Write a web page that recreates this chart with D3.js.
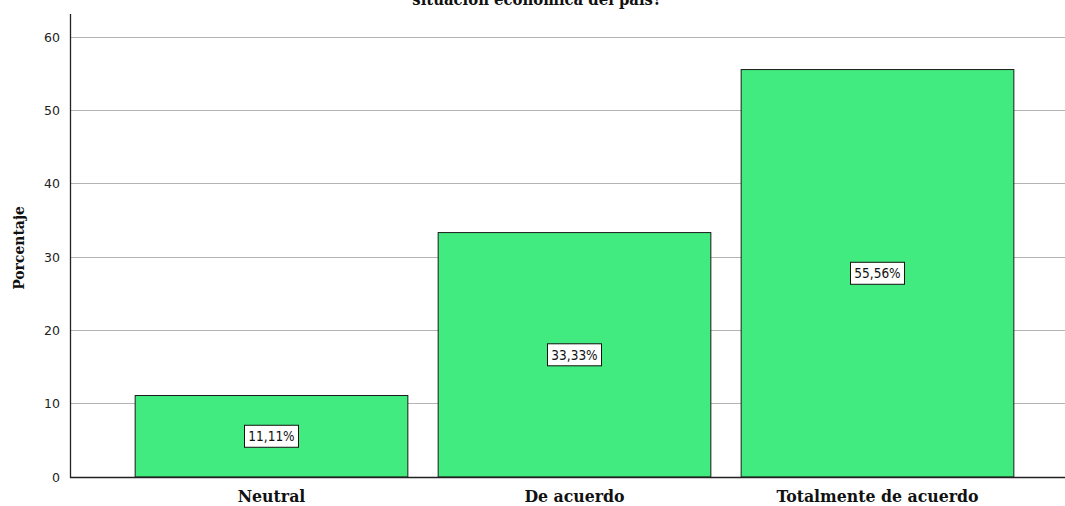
<!DOCTYPE html>
<html><head><meta charset="utf-8">
<script src="https://cdn.jsdelivr.net/npm/d3@7"></script>
<style>body{margin:0;background:#fff}svg{display:block}</style>
</head><body>
<svg id="c" width="1065" height="506"></svg>
<script>
const categories = ["Neutral", "De acuerdo", "Totalmente de acuerdo"];
const values = [11.11, 33.33, 55.56];
const labels = ["11,11%", "33,33%", "55,56%"];
const yTicks = [0, 10, 20, 30, 40, 50, 60];
const titleLine = "situación económica del país?";
const yTitle = "Porcentaje";

(function () {
const svg = d3.select("#c");
const plotLeft = 70, plotRight = 1065, plotTop = 14, plotBottom = 477;
const serif = "DejaVu Serif Condensed, DejaVu Serif, serif";
const y = d3.scaleLinear().domain([0, 60]).range([477, 37]);
const x = d3.scaleBand().domain(categories).range([120, 1029]).paddingInner(0.1).paddingOuter(0.05);

// title (clipped at the top as in the source)
svg.append("text").attr("x", 537).attr("y", 5).attr("text-anchor", "middle")
  .attr("font-family", serif).attr("font-weight", "bold").attr("font-size", 16.5).attr("fill", "#111")
  .text(titleLine);

// gridlines
svg.append("g").selectAll("line").data(yTicks.filter(d => d > 0)).join("line")
  .attr("x1", plotLeft).attr("x2", plotRight).attr("y1", d => y(d)).attr("y2", d => y(d))
  .attr("stroke", "#b4b4b4").attr("stroke-width", 1).attr("shape-rendering", "crispEdges");

// bars
svg.append("g").selectAll("rect").data(values).join("rect")
  .attr("x", (d, i) => x(categories[i])).attr("width", x.bandwidth())
  .attr("y", d => y(d)).attr("height", d => y(0) - y(d))
  .attr("fill", "#42eb7f").attr("stroke", "#1a1a1a").attr("stroke-width", 1);

// axes
const yAxis = d3.axisLeft(y).tickValues(yTicks).tickSize(0).tickPadding(10);
const gy = svg.append("g").attr("transform", `translate(${plotLeft},0)`).call(yAxis);
gy.select(".domain").remove();
gy.selectAll("text").attr("font-family", "DejaVu Sans, sans-serif").attr("font-size", 12.5).attr("fill", "#222");
svg.append("line").attr("x1", plotLeft + 0.5).attr("x2", plotLeft + 0.5).attr("y1", plotTop).attr("y2", plotBottom + 1)
  .attr("stroke", "#222").attr("stroke-width", 1.3);
svg.append("line").attr("x1", plotLeft).attr("x2", plotRight).attr("y1", plotBottom + 0.5).attr("y2", plotBottom + 0.5)
  .attr("stroke", "#222").attr("stroke-width", 1.3);

const xAxis = d3.axisBottom(x).tickSize(0).tickPadding(13);
const gx = svg.append("g").attr("transform", `translate(0,${plotBottom})`).call(xAxis);
gx.select(".domain").remove();
gx.selectAll("text").attr("font-family", serif).attr("font-weight", "bold")
  .attr("font-size", 17.5).attr("fill", "#111");

// y title
svg.append("text").attr("transform", "translate(24,248) rotate(-90)").attr("text-anchor", "middle")
  .attr("font-family", serif).attr("font-weight", "bold").attr("font-size", 15.5)
  .attr("fill", "#111").text(yTitle);

// value labels
const lg = svg.append("g").selectAll("g").data(values).join("g")
  .attr("transform", (d, i) => `translate(${x(categories[i]) + x.bandwidth() / 2},${y(d / 2)})`);
lg.append("rect").attr("x", -27).attr("y", -11).attr("width", 54).attr("height", 22)
  .attr("fill", "#fff").attr("stroke", "#111").attr("stroke-width", 1);
lg.append("text").attr("text-anchor", "middle").attr("dy", "0.35em")
  .attr("font-family", "DejaVu Sans Condensed, DejaVu Sans, sans-serif").attr("font-size", 13.5).attr("fill", "#111")
  .text((d, i) => labels[i]);
})();
</script>
</body></html>
